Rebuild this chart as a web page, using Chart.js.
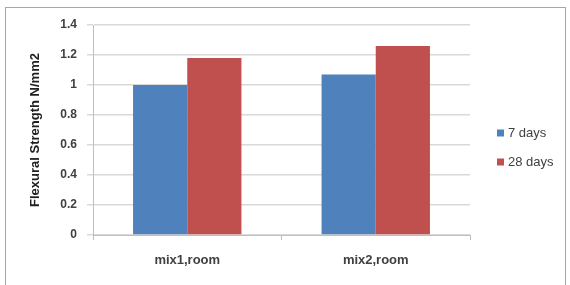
<!DOCTYPE html>
<html>
<head>
<meta charset="utf-8">
<script src="https://cdn.jsdelivr.net/npm/chart.js"></script>
<style>
html,body{margin:0;padding:0;background:#fff;width:570px;height:285px;overflow:hidden;}
#frame{position:absolute;left:5px;top:7px;width:561px;height:300px;border:1px solid #a6a6a6;box-sizing:border-box;}
#wrap{position:absolute;left:0;top:0;width:570px;height:285px;}
</style>
</head>
<body>
<div id="frame"></div>
<div id="wrap"><canvas id="c" width="570" height="285"></canvas></div>
<script>
const categories = ["mix1,room", "mix2,room"];
const seriesNames = ["7 days", "28 days"];
const days7 = [1.00, 1.07];
const days28 = [1.18, 1.26];
const yTicks = [0, 0.2, 0.4, 0.6, 0.8, 1, 1.2, 1.4];
const yTitle = "Flexural Strength N/mm2";

const FONT = "'Liberation Sans', Arial, sans-serif";

const legendPlugin = {
  id: 'customLegend',
  afterDraw(chart) {
    const ctx = chart.ctx;
    ctx.save();
    ctx.font = "13px " + FONT;
    ctx.textBaseline = 'middle';
    chart.data.datasets.forEach((ds, i) => {
      const y = 133 + i * 29;
      ctx.fillStyle = ds.backgroundColor;
      ctx.fillRect(497, y - 3.5, 7, 7);
      ctx.fillStyle = '#404040';
      ctx.fillText(ds.label, 508, y);
    });
    ctx.restore();
  }
};

new Chart(document.getElementById('c'), {
  type: 'bar',
  data: {
    labels: categories,
    datasets: [
      { label: seriesNames[0], data: days7, backgroundColor: '#4F81BD', borderWidth: 0 },
      { label: seriesNames[1], data: days28, backgroundColor: '#C0504D', borderWidth: 0 }
    ]
  },
  options: {
    responsive: false,
    animation: false,
    events: [],
    layout: { padding: { left: 20, right: 100, top: 25, bottom: 0 } },
    datasets: { bar: { categoryPercentage: 0.575, barPercentage: 1.0 } },
    plugins: { legend: { display: false }, tooltip: { enabled: false } },
    scales: {
      x: {
        afterFit(s) { s.height = 50; },
        grid: { display: true, drawOnChartArea: false, offset: true, tickLength: 5, color: '#bfbfbf', lineWidth: 1 },
        border: { display: true, color: '#bfbfbf', width: 1 },
        ticks: { color: '#404040', padding: 13, font: { family: FONT, size: 13, weight: 'bold' } }
      },
      y: {
        min: 0, max: 1.4,
        afterFit(s) { s.width = 73; },
        afterBuildTicks(s) { s.ticks = yTicks.map(v => ({ value: v })); },
        grid: { color: '#d9d9d9', lineWidth: 1.5, tickLength: 6 },
        border: { display: true, color: '#bfbfbf', width: 1 },
        ticks: { color: '#404040', padding: 10, font: { family: FONT, size: 12, weight: 'bold' }, callback: (v) => String(v) },
        title: { display: true, text: yTitle, color: '#202020', padding: { top: 8, bottom: 0 }, font: { family: FONT, size: 13, weight: 'bold' } }
      }
    }
  },
  plugins: [legendPlugin]
});
</script>
</body>
</html>
